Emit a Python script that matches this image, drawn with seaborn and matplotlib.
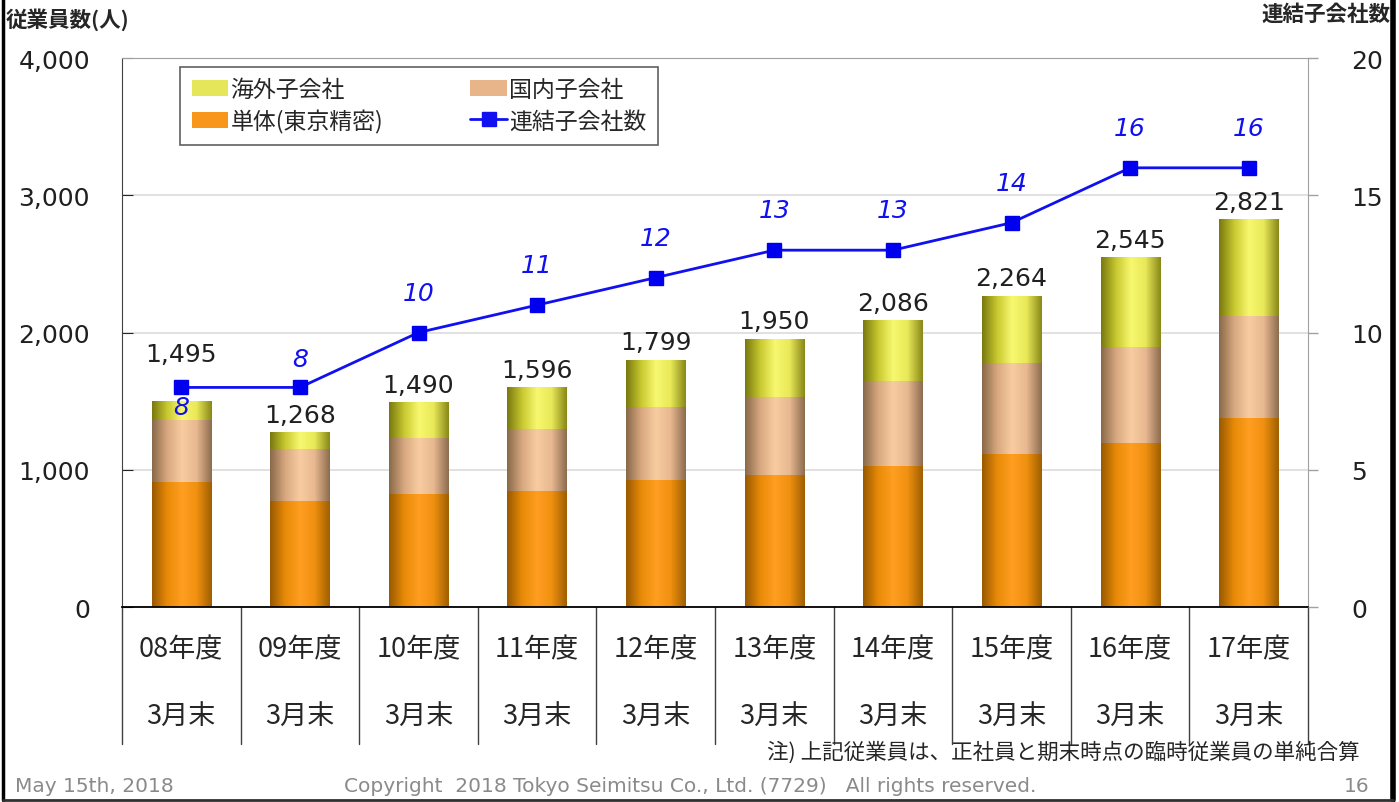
import numpy as np
import pandas as pd
import matplotlib.pyplot as plt
import seaborn as sns
from matplotlib.colors import LinearSegmentedColormap
from matplotlib.patches import Patch
from matplotlib.lines import Line2D
import matplotlib.transforms as mtransforms
import matplotlib.ticker as mticker

#%% データ
years = ['08年度', '09年度', '10年度', '11年度', '12年度',
         '13年度', '14年度', '15年度', '16年度', '17年度']
sub_label = '3月末'
tanntai = [905, 766, 818, 839, 920, 956, 1022, 1109, 1190, 1372]   # 単体(東京精密)
kokunai = [453, 380, 408, 453, 533, 570, 620, 665, 700, 745]      # 国内子会社
kaigai = [137, 122, 264, 304, 346, 424, 444, 490, 655, 704]       # 海外子会社
totals = [1495, 1268, 1490, 1596, 1799, 1950, 2086, 2264, 2545, 2821]
subsidiaries = [8, 8, 10, 11, 12, 13, 13, 14, 16, 16]             # 連結子会社数

df = pd.DataFrame({'year': years, 'tanntai': tanntai, 'kokunai': kokunai, 'kaigai': kaigai})
df['domestic_top'] = df['tanntai'] + df['kokunai']
df['total'] = df['domestic_top'] + df['kaigai']

#%% スタイル
sns.set_style('white')
plt.rcParams['font.family'] = ['DejaVu Sans', 'Noto Sans CJK JP']
jp = ['Noto Sans CJK JP', 'DejaVu Sans']

c_orange = '#F7961A'
c_tan = '#E8B48A'
c_yellow = '#E6E65A'
grad = {
    c_yellow: ['#7A7A10', '#C8C830', '#F8F870', '#E8E858', '#8A8A18'],
    c_tan: ['#8A6A4A', '#D8A880', '#F8CCA0', '#E8B890', '#8E6E50'],
    c_orange: ['#9A5A00', '#E88A08', '#FF9E20', '#F09010', '#A06000'],
}
blue = '#1010F0'

fig = plt.figure(figsize=(13.99, 8.03), dpi=100)
ax = fig.add_axes([0.0872, 0.2428, 0.8478, 0.6837])

# 積み上げ棒 (合計 -> 国内まで -> 単体 の順に重ねる)
sns.barplot(data=df, x='year', y='total', color=c_yellow, width=0.5, saturation=1, ax=ax)
sns.barplot(data=df, x='year', y='domestic_top', color=c_tan, width=0.5, saturation=1, ax=ax)
sns.barplot(data=df, x='year', y='tanntai', color=c_orange, width=0.5, saturation=1, ax=ax)

# 円柱っぽいグラデーション
layer_cols = [c_yellow, c_tan, c_orange]
for k, p in enumerate(ax.patches):
    col = layer_cols[k // len(years)]
    cmap = LinearSegmentedColormap.from_list('g', grad[col])
    x0, w, h = p.get_x(), p.get_width(), p.get_height()
    ax.imshow(np.linspace(0, 1, 64).reshape(1, -1), cmap=cmap, aspect='auto',
              extent=(x0, x0 + w, 0, h), zorder=1.1 + 0.1 * (k // len(years)))
    p.set_visible(False)

ax.set_xlim(-0.5, len(years) - 0.5)
ax.set_ylim(0, 4000)
ax.set_yticks(np.arange(0, 4001, 1000))
ax.yaxis.set_major_formatter(mticker.FuncFormatter(lambda v, _: f'{int(v):,}'))
ax.yaxis.grid(True, color='#dcdcdc', lw=1.2)
ax.set_axisbelow(True)
ax.set_xlabel('')
ax.set_ylabel('')
ax.set_xticks(range(len(years)))
ax.set_xticklabels([])
ax.tick_params(axis='x', bottom=False)
ax.tick_params(axis='y', direction='in', length=8, pad=23, labelsize=18, left=True,
               labelcolor='#202020')
for s in ['top', 'right']:
    ax.spines[s].set_color('#a0a0a0')
ax.spines['left'].set_color('#404040')
ax.spines['bottom'].set_color('black')
ax.spines['bottom'].set_linewidth(1.3)

# 合計ラベル
for i, t in enumerate(totals):
    dy = 36 if i == 0 else 6
    ax.annotate(f'{t:,}', (i, t), xytext=(0, dy * 0.72), textcoords='offset points',
                ha='center', va='bottom', fontsize=18, color='#202020')

# カテゴリラベルと区切り線
trans = mtransforms.blended_transform_factory(ax.transData, ax.transAxes)
for i, y in enumerate(years):
    ax.text(i, -0.077, y, transform=trans, ha='center', va='center', fontsize=19.5, family=jp)
    ax.text(i, -0.2, sub_label, transform=trans, ha='center', va='center', fontsize=19.5, family=jp)
for b in np.arange(-0.5, len(years), 1.0):
    ax.plot([b, b], [0, -0.25], transform=trans, color='#404040', lw=1, clip_on=False)

# 右軸: 連結子会社数
ax2 = ax.twinx()
ax2.plot(range(len(years)), subsidiaries, color=blue, lw=2, marker='s', markersize=10,
         markerfacecolor='#0000EE', markeredgecolor='#0000EE')
ax2.set_ylim(0, 20)
ax2.set_yticks([0, 5, 10, 15, 20])
ax2.tick_params(axis='y', direction='out', length=7, width=1, color='#a0a0a0', pad=24,
                labelsize=18, right=True, labelcolor='#202020')
for s in ax2.spines.values():
    s.set_visible(False)
line_dy = {0: -20, 1: 28}
for i, n in enumerate(subsidiaries):
    ax2.annotate(str(n), (i, n), xytext=(0, line_dy.get(i, 40) * 0.72), textcoords='offset points',
                 ha='center', va='center', fontsize=18, style='italic', color=blue)

# 凡例
handles = [
    Patch(facecolor=c_yellow, edgecolor='none', label='海外子会社'),
    Patch(facecolor=c_orange, edgecolor='none', label='単体(東京精密)'),
    Patch(facecolor=c_tan, edgecolor='none', label='国内子会社'),
    Line2D([0], [0], color=blue, lw=2, marker='s', markersize=10, label='連結子会社数'),
]
leg = ax2.legend(handles=handles, ncol=2, loc='upper left', bbox_to_anchor=(0.049, 0.984),
                 borderaxespad=0, frameon=True, fancybox=False, edgecolor='#606060',
                 framealpha=1, prop={'family': jp, 'size': 16.5}, handlelength=1.6,
                 handletextpad=0.1, columnspacing=3.8, borderpad=0.5, labelspacing=0.35)
leg.get_frame().set_linewidth(1.2)

# 軸タイトル・注記・フッター
fig.text(0.004, 0.975, '従業員数(人)', ha='left', va='center', fontsize=15.5, weight='bold', family=jp)
fig.text(0.994, 0.982, '連結子会社数', ha='right', va='center', fontsize=15.5, weight='bold', family=jp)
fig.text(0.972, 0.063, '注) 上記従業員は、正社員と期末時点の臨時従業員の単純合算',
         ha='right', va='center', fontsize=15.5, family=jp)
fig.text(0.011, 0.02, 'May 15th, 2018', ha='left', va='center', fontsize=14.5, color='#8a8a8a')
fig.text(0.493, 0.02, 'Copyright  2018 Tokyo Seimitsu Co., Ltd. (7729)   All rights reserved.',
         ha='center', va='center', fontsize=14.5, color='#8a8a8a')
fig.text(0.979, 0.02, '16', ha='right', va='center', fontsize=14.5, color='#8a8a8a')

# スライド枠
fig.add_artist(Line2D([0.002, 0.002], [0.003, 1.0], color='black', lw=2.5, transform=fig.transFigure))
fig.add_artist(Line2D([0.996, 0.996], [0.003, 1.0], color='black', lw=4, transform=fig.transFigure))
fig.add_artist(Line2D([0.002, 0.996], [0.003, 0.003], color='#303030', lw=2, transform=fig.transFigure))

fig.savefig('out.png', dpi=100)
